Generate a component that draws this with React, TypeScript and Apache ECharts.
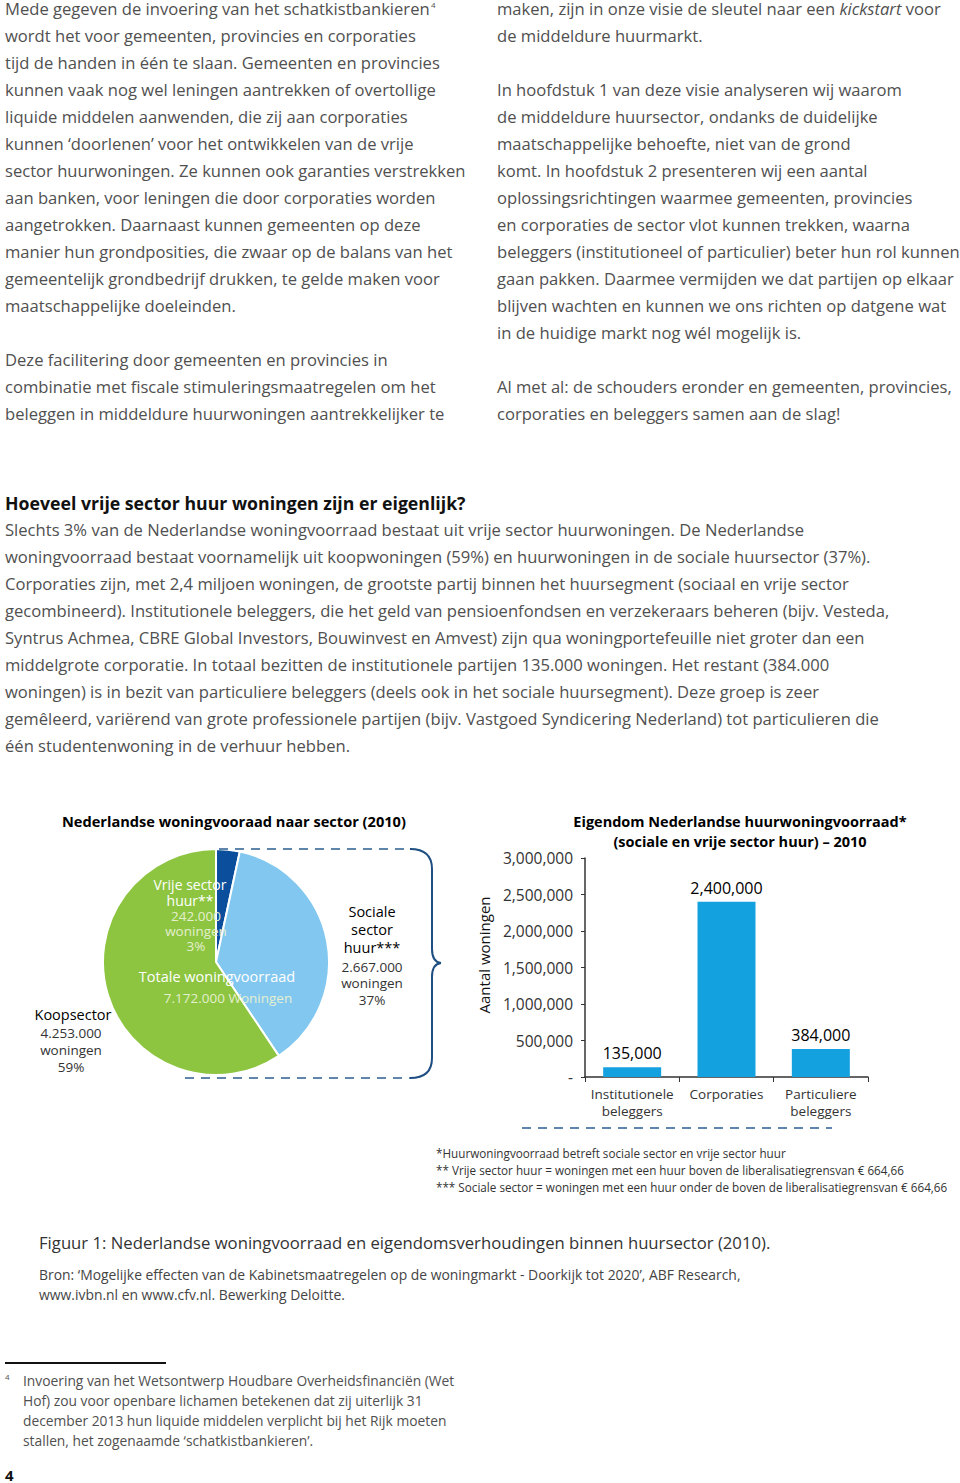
import React, { useEffect, useRef } from "react";
import * as echarts from "echarts";

// ---------- data ----------
const pieCategories = ["Vrije sector huur", "Sociale sector huur", "Koopsector"];
const pieValues = [242000, 2667000, 4253000];
const pieColors = ["#0b4f9c", "#82c7ef", "#8dc540"];

const barCategories = ["Institutionele\nbeleggers", "Corporaties", "Particuliere\nbeleggers"];
const barValues = [135000, 2400000, 384000];
const barAxisMin = 0;
const barAxisMax = 3000000;
const barAxisInterval = 500000;
const barAxisName = "Aantal woningen";

const leftColumn = [
  "Mede gegeven de invoering van het schatkistbankieren",
  "wordt het voor gemeenten, provincies en corporaties",
  "tijd de handen in één te slaan. Gemeenten en provincies",
  "kunnen vaak nog wel leningen aantrekken of overtollige",
  "liquide middelen aanwenden, die zij aan corporaties",
  "kunnen ‘doorlenen’ voor het ontwikkelen van de vrije",
  "sector huurwoningen. Ze kunnen ook garanties verstrekken",
  "aan banken, voor leningen die door corporaties worden",
  "aangetrokken. Daarnaast kunnen gemeenten op deze",
  "manier hun grondposities, die zwaar op de balans van het",
  "gemeentelijk grondbedrijf drukken, te gelde maken voor",
  "maatschappelijke doeleinden.",
  "",
  "Deze facilitering door gemeenten en provincies in",
  "combinatie met fiscale stimuleringsmaatregelen om het",
  "beleggen in middeldure huurwoningen aantrekkelijker te",
];
const rightColumn = [
  "maken, zijn in onze visie de sleutel naar een {i|kickstart} voor",
  "de middeldure huurmarkt.",
  "",
  "In hoofdstuk 1 van deze visie analyseren wij waarom",
  "de middeldure huursector, ondanks de duidelijke",
  "maatschappelijke behoefte, niet van de grond",
  "komt. In hoofdstuk 2 presenteren wij een aantal",
  "oplossingsrichtingen waarmee gemeenten, provincies",
  "en corporaties de sector vlot kunnen trekken, waarna",
  "beleggers (institutioneel of particulier) beter hun rol kunnen",
  "gaan pakken. Daarmee vermijden we dat partijen op elkaar",
  "blijven wachten en kunnen we ons richten op datgene wat",
  "in de huidige markt nog wél mogelijk is.",
  "",
  "Al met al: de schouders eronder en gemeenten, provincies,",
  "corporaties en beleggers samen aan de slag!",
];
const sectionTitle = "Hoeveel vrije sector huur woningen zijn er eigenlijk?";
const sectionLines = [
  "Slechts 3% van de Nederlandse woningvoorraad bestaat uit vrije sector huurwoningen. De Nederlandse",
  "woningvoorraad bestaat voornamelijk uit koopwoningen (59%) en huurwoningen in de sociale huursector (37%).",
  "Corporaties zijn, met 2,4 miljoen woningen, de grootste partij binnen het huursegment (sociaal en vrije sector",
  "gecombineerd). Institutionele beleggers, die het geld van pensioenfondsen en verzekeraars beheren (bijv. Vesteda,",
  "Syntrus Achmea, CBRE Global Investors, Bouwinvest en Amvest) zijn qua woningportefeuille niet groter dan een",
  "middelgrote corporatie. In totaal bezitten de institutionele partijen 135.000 woningen. Het restant (384.000",
  "woningen) is in bezit van particuliere beleggers (deels ook in het sociale huursegment). Deze groep is zeer",
  "gemêleerd, variërend van grote professionele partijen (bijv. Vastgoed Syndicering Nederland) tot particulieren die",
  "één studentenwoning in de verhuur hebben.",
];
const chartNotes = [
  "*Huurwoningvoorraad betreft sociale sector en vrije sector huur",
  "** Vrije sector huur = woningen met een huur boven de liberalisatiegrensvan € 664,66",
  "*** Sociale sector = woningen met een huur onder de boven de liberalisatiegrensvan € 664,66",
];
const figureCaption = "Figuur 1: Nederlandse woningvoorraad en eigendomsverhoudingen binnen huursector (2010).";
const sourceLines = [
  "Bron: ‘Mogelijke effecten van de Kabinetsmaatregelen op de woningmarkt - Doorkijk tot 2020’, ABF Research,",
  "www.ivbn.nl en www.cfv.nl. Bewerking Deloitte.",
];
const footnoteLines = [
  "Invoering van het Wetsontwerp Houdbare Overheidsfinanciën (Wet",
  "Hof) zou voor openbare lichamen betekenen dat zij uiterlijk 31",
  "december 2013 hun liquide middelen verplicht bij het Rijk moeten",
  "stallen, het zogenaamde ‘schatkistbankieren’.",
];

const FONT = "'Open Sans', 'Noto Sans', sans-serif";
const BODY = "#505050";

function txt(x: number, y: number, text: string, o: any = {}) {
  const align = o.align || "left";
  const size = o.size || 16;
  return {
    type: "text",
    x,
    y,
    z: 100,
    rotation: o.rotation || 0,
    style: {
      text,
      fill: o.fill || BODY,
      fontSize: size,
      lineHeight: o.lineHeight || Math.round(size),
      fontFamily: o.family || FONT,
      fontWeight: o.weight || "normal",
      fontStyle: o.style || "normal",
      align,
      textAlign: align,
      verticalAlign: "middle",
      textVerticalAlign: "middle",
      rich: o.rich,
    },
  };
}

function block(x: number, y0: number, step: number, lines: string[], o: any = {}) {
  const out: any[] = [];
  lines.forEach((l, i) => {
    if (l) out.push(txt(x, y0 + i * step, l, o));
  });
  return out;
}

export default function App() {
  const ref = useRef<HTMLDivElement>(null);
  useEffect(() => {
    if (!ref.current) return;
    const chart = echarts.init(ref.current, undefined, { renderer: "svg" });
    const dash = { stroke: "#2c5d8f", lineWidth: 1.6, lineDash: [9, 7] };
    const brace = { stroke: "#1f4f82", lineWidth: 2, fill: "none" };
    const BS = 16.6;
    const pale = "#e4efcf";
    const graphics: any[] = [
      ...block(5, 8, 27, leftColumn, { size: BS }),
      txt(431, 4, "4", { size: 8 }),
      ...block(497, 8, 27, rightColumn, {
        size: BS,
        rich: { i: { fontStyle: "italic", fontSize: BS, lineHeight: 17, fontFamily: FONT, fill: BODY } },
      }),
      txt(5, 503, sectionTitle, { size: 17.7, weight: "bold", fill: "#111" }),
      ...block(5, 529, 27, sectionLines, { size: BS }),
      // pie chart
      txt(62, 821, "Nederlandse woningvooraad naar sector (2010)", { size: 14.6, weight: "bold", fill: "#000" }),
      txt(190, 892, "Vrije sector\nhuur**", { size: 14, lineHeight: 16, fill: "#fff", align: "center" }),
      txt(196, 931, "242.000\nwoningen\n3%", { size: 13.5, lineHeight: 15, fill: pale, align: "center" }),
      txt(217, 976, "Totale woningvoorraad", { size: 14.5, fill: "#fff", align: "center" }),
      txt(228, 998, "7.172.000 Woningen", { size: 13.5, fill: pale, align: "center" }),
      txt(372, 929, "Sociale\nsector\nhuur***", { size: 14.5, lineHeight: 18, fill: "#000", align: "center" }),
      txt(372, 983, "2.667.000\nwoningen\n37%", { size: 13.5, lineHeight: 16.5, fill: "#333", align: "center" }),
      txt(73, 1014, "Koopsector", { size: 14.5, fill: "#000", align: "center" }),
      txt(71, 1050, "4.253.000\nwoningen\n59%", { size: 13.5, lineHeight: 17, fill: "#333", align: "center" }),
      { type: "line", z: 100, shape: { x1: 219, y1: 849, x2: 412, y2: 849 }, style: dash },
      { type: "line", z: 100, shape: { x1: 185, y1: 1078, x2: 412, y2: 1078 }, style: dash },
      { type: "bezierCurve", z: 100, shape: { x1: 410, y1: 849, x2: 432, y2: 869, cpx1: 432, cpy1: 849 }, style: brace },
      { type: "line", z: 100, shape: { x1: 432, y1: 869, x2: 432, y2: 949 }, style: brace },
      { type: "bezierCurve", z: 100, shape: { x1: 432, y1: 949, x2: 441, y2: 963, cpx1: 432, cpy1: 962 }, style: brace },
      { type: "bezierCurve", z: 100, shape: { x1: 441, y1: 963, x2: 432, y2: 977, cpx1: 432, cpy1: 964 }, style: brace },
      { type: "line", z: 100, shape: { x1: 432, y1: 977, x2: 432, y2: 1058 }, style: brace },
      { type: "bezierCurve", z: 100, shape: { x1: 432, y1: 1058, x2: 410, y2: 1078, cpx1: 432, cpy1: 1078 }, style: brace },
      // bar chart
      txt(740, 821, "Eigendom Nederlandse huurwoningvoorraad*", { size: 14.5, weight: "bold", fill: "#000", align: "center" }),
      txt(740, 841, "(sociale en vrije sector huur) – 2010", { size: 14.5, weight: "bold", fill: "#000", align: "center" }),
      txt(484, 955, barAxisName, { size: 15, fill: "#111", align: "center", rotation: Math.PI / 2 }),
      { type: "line", z: 100, shape: { x1: 522, y1: 1128, x2: 832, y2: 1128 }, style: dash },
      ...block(436, 1153, 17, chartNotes, { size: 11.7, fill: "#333" }),
      txt(39, 1242, figureCaption, { size: 16.7, fill: "#333" }),
      ...block(39, 1274, 20, sourceLines, { size: 13.9, fill: "#444" }),
      { type: "line", z: 100, shape: { x1: 5, y1: 1363, x2: 166, y2: 1363 }, style: { stroke: "#111", lineWidth: 2 } },
      txt(5, 1376, "4", { size: 8 }),
      ...block(23, 1380, 20, footnoteLines, { size: 13.8 }),
      txt(5, 1475, "4", { size: 15, weight: "bold", fill: "#111" }),
    ];

    chart.setOption({
      animation: false,
      backgroundColor: "#fff",
      textStyle: { fontFamily: FONT },
      grid: { left: 585, top: 858, width: 283, height: 219, containLabel: false },
      xAxis: {
        type: "category",
        data: barCategories,
        axisLine: { show: true, lineStyle: { color: "#333", width: 1.5 } },
        axisTick: { show: true, length: 5, alignWithLabel: false, lineStyle: { color: "#333" } },
        axisLabel: { color: "#333", fontSize: 13.5, fontFamily: FONT, margin: 8, lineHeight: 17, interval: 0 },
      },
      yAxis: {
        type: "value",
        min: barAxisMin,
        max: barAxisMax,
        interval: barAxisInterval,
        axisLine: { show: true, lineStyle: { color: "#333", width: 1.5 } },
        axisTick: { show: true, length: 4, lineStyle: { color: "#333" } },
        splitLine: { show: false },
        axisLabel: {
          color: "#333",
          fontSize: 15.5,
          fontFamily: FONT,
          margin: 12,
          formatter: (v: number) => (v === 0 ? "-" : v.toLocaleString("en-US")),
        },
      },
      series: [
        {
          type: "bar",
          data: barValues,
          barWidth: 58,
          itemStyle: { color: "#14a1e0" },
          label: {
            show: true,
            position: "top",
            distance: 6,
            color: "#000",
            fontSize: 16,
            fontFamily: FONT,
            formatter: (p: any) => Number(p.value).toLocaleString("en-US"),
          },
        },
        {
          type: "pie",
          center: [216, 962],
          radius: 113,
          startAngle: 90,
          clockwise: true,
          label: { show: false },
          labelLine: { show: false },
          itemStyle: { borderColor: "#fff", borderWidth: 2 },
          data: pieCategories.map((n, i) => ({ name: n, value: pieValues[i], itemStyle: { color: pieColors[i] } })),
        },
      ],
      graphic: { elements: graphics },
    });
    return () => chart.dispose();
  }, []);
  return (
    <div
      ref={ref}
      style={{ position: "absolute", left: 0, top: 0, width: 960, height: 1483, background: "#fff" }}
    />
  );
}
